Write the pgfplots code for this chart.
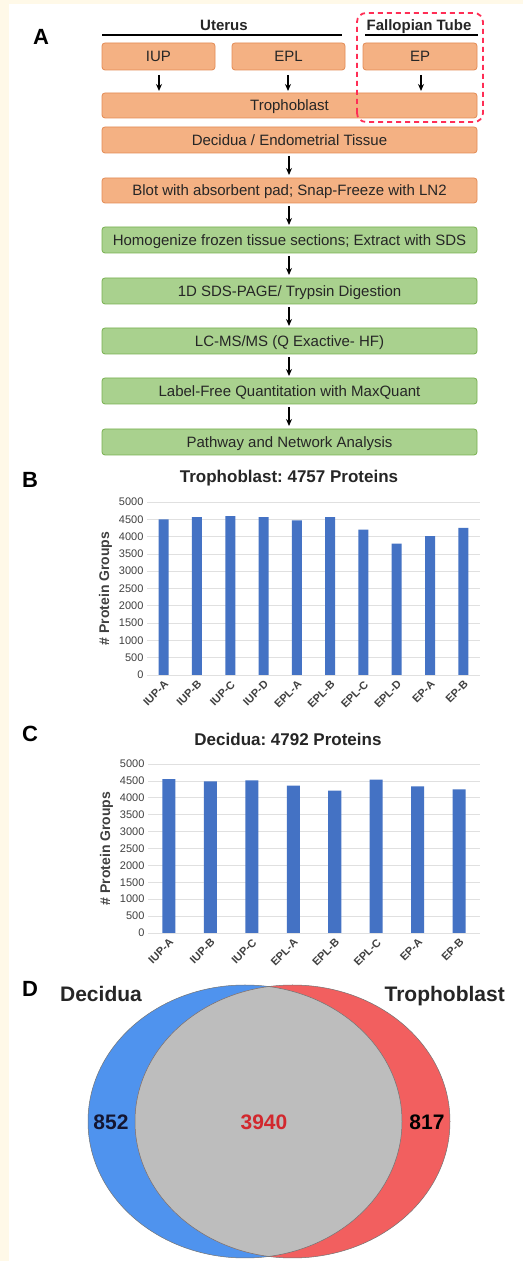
\documentclass[border=0pt]{standalone}
\usepackage{fontspec}
\setmainfont{Liberation Sans}
\usepackage{pgfplots}
\pgfplotsset{compat=1.18}
\usetikzlibrary{arrows.meta}
\frenchspacing

\definecolor{orf}{HTML}{F4B183}
\definecolor{ord}{HTML}{E38C55}
\definecolor{grf}{HTML}{A9D18E}
\definecolor{grd}{HTML}{78B050}
\definecolor{barblue}{HTML}{4472C4}
\definecolor{txt}{HTML}{262626}
\definecolor{tickc}{HTML}{404040}
\definecolor{cream}{HTML}{FFF9E8}
\definecolor{vblue}{HTML}{4F93EE}
\definecolor{vred}{HTML}{F25F5F}
\definecolor{vgray}{HTML}{BDBDBD}
\definecolor{dashred}{HTML}{FF2E55}

\newcommand{\flowbox}[6]{%
  \draw[#5, rounded corners=3pt, line width=0.8pt] (#1,#2) rectangle (#3,#4);
  \node[font=\fontsize{15}{15}\selectfont, text=txt, inner sep=0, anchor=base] at ({(#1+#3)/2},{(#2+#4)/2-5.4}) {#6};
}
\newcommand{\flowarrow}[3]{%
  \draw[-{Stealth[length=7pt,width=6pt]}, line width=1.5pt, black] (#1,#2) -- (#1,#3);
}

\pgfplotsset{
  barchart/.style={
    scale only axis,
    anchor=south west,
    ymin=0, ymax=5000,
    ytick={0,500,...,5000},
    scaled y ticks=false,
    ybar,
    axis line style={draw=none},
    major tick length=0pt,
    ymajorgrids,
    grid style={draw=black!12, line width=0.6pt},
    /pgf/number format/assume math mode=true,
    /pgf/number format/set thousands separator={},
    yticklabel style={font=\fontsize{11}{11}\selectfont, text=tickc},
    xticklabel style={font=\bfseries\fontsize{11}{11}\selectfont, text=tickc, rotate=45, anchor=north east},
    ylabel={\# Protein Groups},
    ylabel style={font=\bfseries\fontsize{14}{14}\selectfont, text=tickc},
    xtick=data,
  }
}

\begin{document}
\begin{tikzpicture}[x=1pt,y=1pt]
% background
\fill[white] (0,0) rectangle (523,1261);
\fill[cream] (0,0) rectangle (9,1261);
\fill[cream] (0,1257) rectangle (523,1261);

% ---------------- Panel A ----------------
\node[font=\bfseries\fontsize{22}{22}\selectfont, anchor=base west, inner sep=0] at (33,1216) {A};
\node[font=\bfseries\fontsize{15}{15}\selectfont, text=txt, anchor=base, inner sep=0] at (224,1230) {Uterus};
\node[font=\bfseries\fontsize{15}{15}\selectfont, text=txt, anchor=base, inner sep=0] at (419,1230) {Fallopian Tube};
\draw[line width=1.2pt] (102,1226) -- (342,1226);
\draw[line width=1.2pt] (365,1226) -- (478,1226);

\flowbox{102}{1191}{215}{1218}{fill=orf,draw=ord}{IUP}
\flowbox{232}{1191}{345}{1218}{fill=orf,draw=ord}{EPL}
\flowbox{363}{1191}{477}{1218}{fill=orf,draw=ord}{EP}
\flowarrow{159}{1186}{1170}
\flowarrow{288}{1186}{1170}
\flowarrow{421}{1186}{1170}
\flowbox{102}{1143}{477}{1168}{fill=orf,draw=ord}{Trophoblast}
\flowbox{102}{1108}{477}{1134}{fill=orf,draw=ord}{Decidua / Endometrial Tissue}
\flowarrow{289}{1105}{1086}
\flowbox{102}{1058}{477}{1083}{fill=orf,draw=ord}{Blot with absorbent pad; Snap-Freeze with LN2}
\flowarrow{289}{1055}{1036}
\flowbox{102}{1008}{477}{1034}{fill=grf,draw=grd}{Homogenize frozen tissue sections; Extract with SDS}
\flowarrow{289}{1005}{986}
\flowbox{102}{957}{477}{983}{fill=grf,draw=grd}{1D SDS-PAGE/ Trypsin Digestion}
\flowarrow{289}{954}{935}
\flowbox{102}{907}{477}{933}{fill=grf,draw=grd}{LC-MS/MS (Q Exactive- HF)}
\flowarrow{289}{904}{885}
\flowbox{102}{857}{477}{883}{fill=grf,draw=grd}{Label-Free Quantitation with MaxQuant}
\flowarrow{289}{854}{835}
\flowbox{102}{806}{477}{832}{fill=grf,draw=grd}{Pathway and Network Analysis}

\draw[dashred, line width=1.8pt, dash pattern=on 5pt off 4pt, rounded corners=9pt] (357,1139) rectangle (483,1248);

% ---------------- Panel B ----------------
\node[font=\bfseries\fontsize{22}{22}\selectfont, anchor=base west, inner sep=0] at (22,773) {B};
\node[font=\bfseries\fontsize{17}{17}\selectfont, text=txt, anchor=base, inner sep=0] at (289,778) {Trophoblast: 4757 Proteins};
\begin{axis}[barchart,
  at={(147pt,586pt)}, width=333pt, height=173pt,
  xmin=-0.5, xmax=9.5, bar width=10pt,
  xticklabels={IUP-A,IUP-B,IUP-C,IUP-D,EPL-A,EPL-B,EPL-C,EPL-D,EP-A,EP-B},
]
\addplot[fill=barblue, draw=none] coordinates {
  (0,4500) (1,4565) (2,4595) (3,4565) (4,4470)
  (5,4565) (6,4200) (7,3800) (8,4010) (9,4250)
};
\end{axis}

% ---------------- Panel C ----------------
\node[font=\bfseries\fontsize{22}{22}\selectfont, anchor=base west, inner sep=0] at (22,519) {C};
\node[font=\bfseries\fontsize{17}{17}\selectfont, text=txt, anchor=base, inner sep=0] at (288,515) {Decidua: 4792 Proteins};
\begin{axis}[barchart,
  at={(148pt,328pt)}, width=332pt, height=169pt,
  xmin=-0.5, xmax=7.5, bar width=13pt,
  xticklabels={IUP-A,IUP-B,IUP-C,EPL-A,EPL-B,EPL-C,EP-A,EP-B},
]
\addplot[fill=barblue, draw=none] coordinates {
  (0,4555) (1,4486) (2,4516) (3,4358)
  (4,4209) (5,4535) (6,4338) (7,4249)
};
\end{axis}

% ---------------- Panel D ----------------
\node[font=\bfseries\fontsize{22}{22}\selectfont, anchor=base west, inner sep=0] at (22,264) {D};
\node[font=\bfseries\fontsize{21}{21}\selectfont, text=txt, anchor=base, inner sep=0] at (101,259) {Decidua};
\node[font=\bfseries\fontsize{21}{21}\selectfont, text=txt, anchor=base east, inner sep=0] at (505,259) {Trophoblast};
\begin{axis}[at={(0pt,0pt)}, anchor=south west, scale only axis,
  width=523pt, height=280pt, xmin=0, xmax=523, ymin=0, ymax=280,
  hide axis, clip=false]
\fill[vblue] (axis cs:245,139.5) ellipse [x radius=157, y radius=136.5];
\fill[vred] (axis cs:292.5,139.5) ellipse [x radius=157.5, y radius=136.5];
\begin{scope}
\clip (axis cs:245,139.5) ellipse [x radius=157, y radius=136.5];
\fill[vgray] (axis cs:292.5,139.5) ellipse [x radius=157.5, y radius=136.5];
\end{scope}
\draw[black!55, line width=0.5pt] (axis cs:245,139.5) ellipse [x radius=157, y radius=136.5];
\draw[black!55, line width=0.5pt] (axis cs:292.5,139.5) ellipse [x radius=157.5, y radius=136.5];
\node[font=\bfseries\fontsize{21}{21}\selectfont, text={rgb,255:red,20;green,22;blue,50}, anchor=base, inner sep=0] at (axis cs:111,131.5) {852};
\node[font=\bfseries\fontsize{21}{21}\selectfont, text={rgb,255:red,210;green,40;blue,46}, anchor=base, inner sep=0] at (axis cs:264,131.5) {3940};
\node[font=\bfseries\fontsize{21}{21}\selectfont, text=black, anchor=base, inner sep=0] at (axis cs:427,131.5) {817};
\end{axis}
\end{tikzpicture}
\end{document}
